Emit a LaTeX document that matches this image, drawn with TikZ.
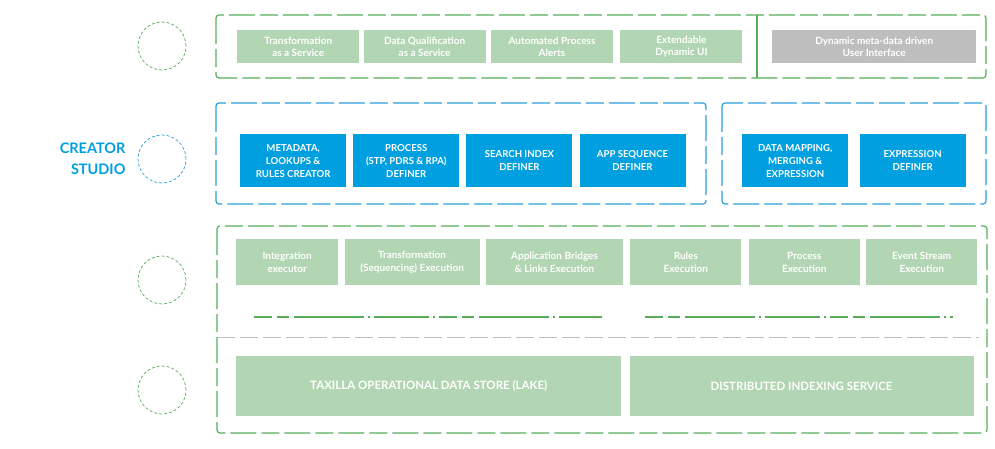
\documentclass[tikz,border=0pt]{standalone}
\usepackage{fontspec}
\setmainfont{Lato}
\usetikzlibrary{positioning}
\definecolor{tgreen}{RGB}{178,214,179}
\definecolor{tgline}{RGB}{88,173,90}
\definecolor{tblue}{RGB}{0,160,224}
\definecolor{tbline}{RGB}{40,160,218}
\definecolor{tgray}{RGB}{190,190,190}
\tikzstyle{blk}=[text=white,align=center,inner sep=0pt,font=\bfseries\fontsize{10}{11.5}\selectfont]
\tikzstyle{gbox}=[blk,fill=tgreen,minimum height=33pt]
\tikzstyle{bbox}=[blk,fill=tblue,minimum height=53pt,minimum width=106pt,font=\bfseries\fontsize{9.6}{13}\selectfont]
\tikzstyle{ebox}=[blk,fill=tgreen,minimum height=46pt,font=\bfseries\fontsize{10}{13.5}\selectfont]
\tikzstyle{lbox}=[blk,fill=tgreen,minimum height=60pt,font=\bfseries\fontsize{11.5}{13}\selectfont]
\tikzstyle{ring}=[circle,minimum size=48pt,inner sep=0pt,line width=0.7pt,dash pattern=on 3pt off 2pt]
\tikzstyle{frame}=[rounded corners=3pt,line width=1.2pt,dash pattern=on 26pt off 5pt on 18pt off 5pt]
\tikzstyle{split}=[tgline,line width=1.6pt,dash pattern=on 18pt off 5pt on 12pt off 5pt on 70pt off 4pt on 2pt off 4pt on 55pt off 4pt on 2pt off 4pt]
\newcommand{\newBlock}[4]{\node[#3](#1)[#4]{#2};}
\begin{document}
\begin{tikzpicture}[x=1pt,y=-1pt,node distance=5pt,
      every node/.style={anchor=north west}
      ]
      \useasboundingbox (0,0) rectangle (995,449);
      % rings on the left
      \node[ring,draw=tgline,anchor=center] (ringA) at (162,46) {};
      \node[ring,draw=tbline,anchor=center] (ringB) at (162,159) {};
      \node[ring,draw=tgline,anchor=center] (ringC) at (162,280) {};
      \node[ring,draw=tgline,anchor=center] (ringD) at (162,390) {};
      \node[anchor=east,align=right,text=tblue,font=\bfseries\fontsize{14.5}{21}\selectfont] (studio) at (129,159) {CREATOR\\STUDIO};
      % frames
      \draw[frame,tgline] (216,15) rectangle (986,78);
      \draw[tgline,line width=1.2pt] (757,15) -- (757,78);
      \draw[frame,tbline] (216,103) rectangle (706,204);
      \draw[frame,tbline] (722,103) rectangle (986,204);
      \draw[frame,tgline] (217,226) rectangle (987,433);
      % services row
      \newBlock{taas}{Transformation\\as a Service}{gbox,minimum width=122pt}{at={(237,30)}}
      \newBlock{dqaas}{Data Qualification\\as a Service}{gbox,minimum width=122pt}{right=4pt of taas}
      \newBlock{alerts}{Automated Process\\Alerts}{gbox,minimum width=122pt}{right=of dqaas}
      \newBlock{dynui}{Extendable\\Dynamic UI}{gbox,minimum width=122pt}{right=7pt of alerts}
      \newBlock{metaui}{Dynamic meta-data driven\\User Interface}{gbox,fill=tgray,minimum width=204pt}{at={(772,30)}}
      % creator studio row
      \newBlock{rules}{METADATA,\\LOOKUPS \&\\RULES CREATOR}{bbox}{at={(240,134)}}
      \newBlock{proc}{PROCESS\\(STP, PDRS \& RPA)\\DEFINER}{bbox}{right=6.7pt of rules}
      \newBlock{search}{SEARCH INDEX\\DEFINER}{bbox}{right=6.7pt of proc}
      \newBlock{appseq}{APP SEQUENCE\\DEFINER}{bbox}{right=6.7pt of search}
      \newBlock{mapping}{DATA MAPPING,\\MERGING \&\\EXPRESSION}{bbox}{at={(742,134)}}
      \newBlock{expr}{EXPRESSION\\DEFINER}{bbox}{right=11pt of mapping}
      % execution row
      \newBlock{integ}{Integration\\executor}{ebox,minimum width=102pt}{at={(236,239)}}
      \newBlock{trexec}{Transformation\\(Sequencing) Execution}{ebox,minimum width=135pt}{right=6pt of integ}
      \newBlock{bridges}{Application Bridges\\\& Links Execution}{ebox,minimum width=137pt}{right=6pt of trexec}
      \newBlock{rlexec}{Rules\\Execution}{ebox,minimum width=111pt}{right=7pt of bridges}
      \newBlock{prexec}{Process\\Execution}{ebox,minimum width=111pt}{right=7pt of rlexec}
      \newBlock{evexec}{Event Stream\\Execution}{ebox,minimum width=111pt}{right=6pt of prexec}
      \draw[split] (254,317) -- (602,317);
      \draw[split] (645,317) -- (953,317);
      \draw[tgray,line width=0.8pt,dash pattern=on 18pt off 5pt] (217,337) -- (979,337);
      % storage row
      \newBlock{lake}{TAXILLA OPERATIONAL DATA STORE (LAKE)}{lbox,minimum width=385pt}{at={(236,356)}}
      \newBlock{index}{DISTRIBUTED INDEXING SERVICE}{lbox,minimum width=344pt}{right=8pt of lake}
    \end{tikzpicture}
\end{document}
